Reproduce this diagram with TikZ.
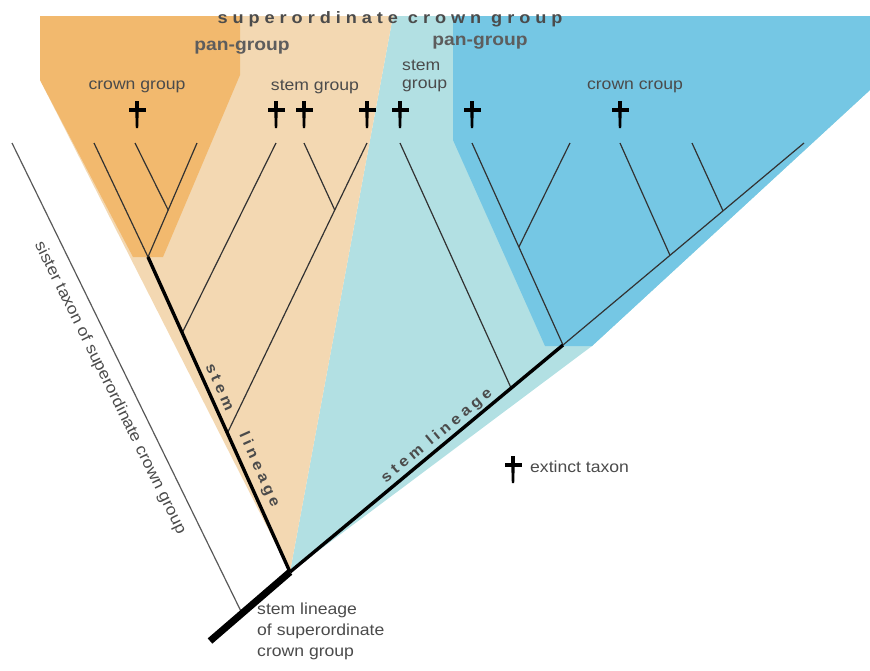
\documentclass[tikz,border=0pt]{standalone}
\usepackage{fontspec}
\setmainfont[FakeStretch=1.1]{Liberation Sans}
\newfontfamily\spacedfont[FakeStretch=1.1,LetterSpace=30]{Liberation Sans}
\newfontfamily\lspacedfont[FakeStretch=1.1,LetterSpace=26]{Liberation Sans}
\usetikzlibrary{calc}
\definecolor{dorange}{RGB}{242,185,110}
\definecolor{lorange}{RGB}{243,216,178}
\definecolor{pblue}{RGB}{178,224,227}
\definecolor{dblue}{RGB}{117,199,228}
\definecolor{txtgray}{RGB}{75,75,75}
\definecolor{linegray}{RGB}{50,50,50}
\begin{document}
\begin{tikzpicture}[x=1pt,y=-1pt,
  branch/.style={draw=linegray, line width=1.2pt},
  stemline/.style={draw=black, line width=3.4pt},
  baseline/.style={draw=black, line width=7pt},
  sisterline/.style={draw=black!65, line width=1.2pt},
  lbl/.style={text=txtgray, font=\fontsize{16}{19}\selectfont, inner sep=0pt},
  panlbl/.style={text=txtgray!90, font=\fontsize{17.5}{19}\selectfont\bfseries, inner sep=0pt},
  hdrlbl/.style={text=txtgray, font=\spacedfont\fontsize{16.5}{19}\selectfont\bfseries, inner sep=0pt},
  linlbl/.style={text=txtgray, font=\lspacedfont\fontsize{15}{18}\selectfont\bfseries, inner sep=0pt},
  extinct/.pic={\fill[black] (-2,-9) -- (2,-9) -- (1.2,18) -- (-1.2,18) -- cycle;
                \fill[black] (-8.5,-2) -- (8.5,-2) -- (8.5,2.2) -- (-8.5,2.2) -- cycle;}
]
\path[use as bounding box] (0,0) rectangle (870,670);

% coloured regions
\fill[pblue] (393,16) -- (870,16) -- (870,90) -- (592,346) -- (290,572) -- cycle;
\fill[dblue] (453,16) -- (870,16) -- (870,90) -- (592,346) -- (545,346) -- (453,140) -- cycle;
\fill[lorange] (240,16) -- (393,16) -- (290,572) -- (40,80) -- (40,16) -- cycle;
\fill[dorange] (40,16) -- (240,16) -- (240,75) -- (163,257) -- (133,257) -- (40,80) -- cycle;

% coordinates
\coordinate (root) at (290,572);
\coordinate (base) at (210,641);
\coordinate (sj) at ($(root)!0.6!(base)$);
\coordinate (sistertip) at (12,143);
\coordinate (r1) at (148,257);
\coordinate (t1) at (94,143);
\coordinate (t2) at (135,143);
\coordinate (t3) at (197,143);
\coordinate (j1) at ($(t3)!0.588!(r1)$);
\coordinate (s1) at (276,143);
\coordinate (s2) at (304,143);
\coordinate (s3) at (367,143);
\coordinate (k1) at ($(r1)!0.241!(root)$);
\coordinate (k2) at ($(r1)!0.559!(root)$);
\coordinate (j2) at ($(s3)!0.231!(k2)$);
\coordinate (n1) at (563,345);
\coordinate (p1) at (400,143);
\coordinate (k3) at ($(root)!0.81!(n1)$);
\coordinate (b1) at (472,143);
\coordinate (b2) at (570,143);
\coordinate (b3) at (620,143);
\coordinate (b4) at (692,143);
\coordinate (b5) at (804,143);
\coordinate (j3) at ($(b1)!0.515!(n1)$);
\coordinate (j4) at ($(n1)!0.444!(b5)$);
\coordinate (j5) at ($(n1)!0.664!(b5)$);

% sister taxon
\draw[sisterline] (sistertip) -- (sj);
% tree branches
\draw[branch] (t1) -- (r1);
\draw[branch] (t3) -- (r1);
\draw[branch] (t2) -- (j1);
\draw[branch] (s1) -- (k1);
\draw[branch] (s3) -- (k2);
\draw[branch] (s2) -- (j2);
\draw[branch] (p1) -- (k3);
\draw[branch] (b1) -- (n1);
\draw[branch] (b2) -- (j3);
\draw[branch] (b5) -- (n1);
\draw[branch] (b3) -- (j4);
\draw[branch] (b4) -- (j5);
% stem lineages
\draw[stemline] (r1) -- (root);
\draw[stemline] (root) -- (n1);
\draw[baseline] (root) -- (base);

% extinct crosses
\pic at (137,110) {extinct};
\pic at (276,110) {extinct};
\pic at (304,110) {extinct};
\pic at (367,110) {extinct};
\pic at (400,110) {extinct};
\pic at (472,110) {extinct};
\pic at (620,110) {extinct};
\pic at (513,465) {extinct};

% labels
\node[hdrlbl] (hdr) at (390,19) {superordinate crown group};
\node[panlbl] (pan1) at (242,48) {pan-group};
\node[panlbl] (pan2) at (480,43) {pan-group};
\node[lbl] (cg1) at (137,87) {crown group};
\node[lbl] (sg1) at (315,87) {stem group};
\node[lbl, align=left, anchor=west, font=\fontsize{16}{18}\selectfont] (sg2) at (402,76) {stem\\group};
\node[lbl] (cg2) at (635,87) {crown croup};
\node[lbl, anchor=west] (ext) at (530,467) {extinct taxon};
\node[lbl, align=left, anchor=north west, font=\fontsize{16}{21}\selectfont] (slsc) at (257,603) {stem lineage\\of superordinate\\crown group};
\node[lbl, rotate=-63.7] (sister) at (110,388) {sister taxon of superordinate crown group};
\node[linlbl, rotate=-65.9] (stem1) at (220,387) {stem};
\node[linlbl, rotate=-65.9] (lin1) at (259,470) {lineage};
\node[linlbl, rotate=39.5] (stem2) at (437,436) {stem lineage};
\end{tikzpicture}
\end{document}
